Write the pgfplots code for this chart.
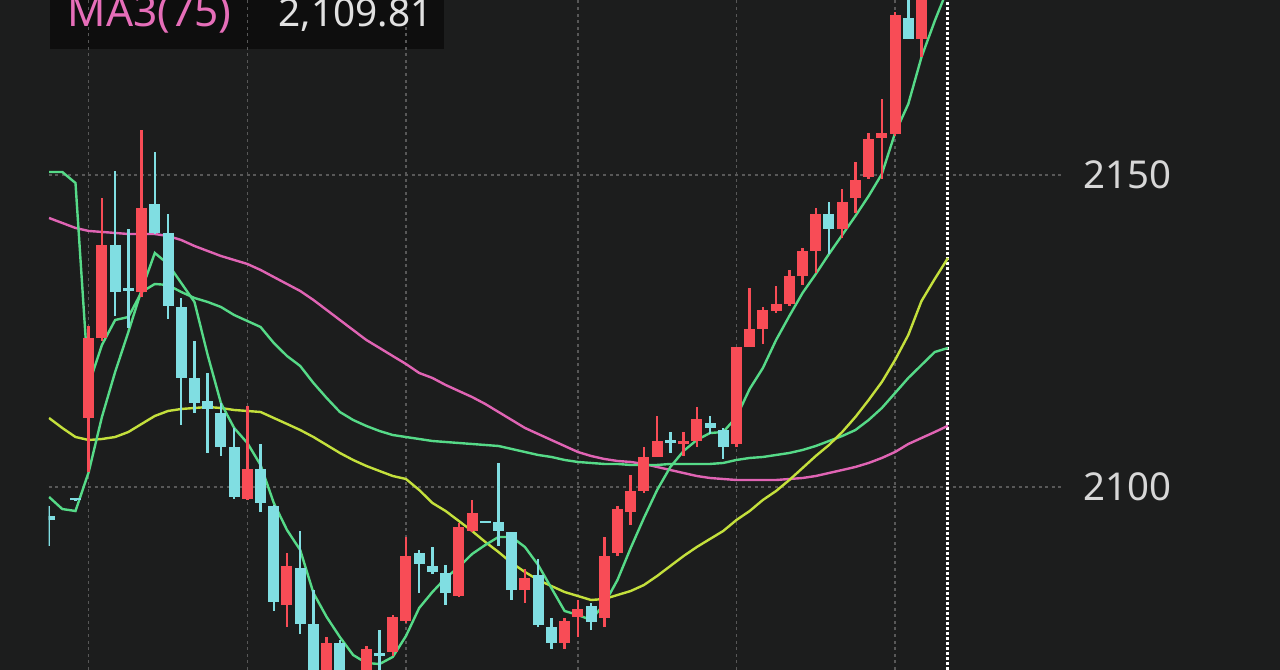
\documentclass[border=0pt]{standalone}
\usepackage{pgfplots}
\pgfplotsset{compat=1.18}
\usepackage{pgfplotstable}
\usepackage{fontspec}
\setmainfont{Noto Sans}
\definecolor{bgC}{RGB}{28,29,29}
\definecolor{boxC}{RGB}{14,14,14}
\definecolor{upC}{RGB}{248,76,86}
\definecolor{downC}{RGB}{128,222,226}
\definecolor{greenC}{RGB}{86,218,136}
\definecolor{yellowC}{RGB}{196,224,60}
\definecolor{pinkC}{RGB}{224,100,180}
\definecolor{pinkT}{RGB}{230,110,185}
\definecolor{gridC}{RGB}{88,88,88}
\definecolor{tickC}{RGB}{215,215,215}
\definecolor{valC}{RGB}{225,225,225}

\pgfplotstableread{
i o c h l
3 2111.06 2123.88 2125.80 2102.40
4 2123.88 2138.78 2146.31 2123.40
7 2131.25 2144.71 2157.21 2130.45
15 2098.08 2102.88 2112.98 2097.92
18 2081.09 2087.34 2089.42 2077.56
21 2068.27 2075.00 2075.96 2066.67
24 2067.47 2074.04 2074.52 2065.87
26 2073.56 2079.17 2079.49 2072.92
27 2078.53 2088.94 2091.99 2078.21
31 2082.53 2093.59 2094.23 2082.37
32 2092.95 2095.83 2097.92 2092.79
36 2083.49 2085.42 2086.86 2081.41
39 2075.00 2078.53 2079.01 2074.04
40 2079.17 2080.45 2081.89 2075.96
42 2079.01 2088.94 2091.99 2077.56
43 2089.42 2096.47 2096.96 2088.94
44 2095.99 2099.36 2101.92 2093.91
45 2099.36 2104.81 2106.41 2099.04
46 2104.81 2107.37 2111.38 2104.81
48 2106.89 2107.37 2108.81 2104.97
49 2107.37 2110.90 2112.82 2106.41
52 2106.89 2122.44 2122.44 2106.41
53 2122.44 2125.32 2131.89 2122.44
54 2125.32 2128.37 2128.85 2122.92
55 2128.21 2129.33 2132.21 2127.88
56 2129.33 2133.81 2134.78 2129.01
57 2133.81 2137.82 2138.30 2132.37
58 2137.82 2143.75 2144.71 2134.29
60 2141.35 2145.67 2147.76 2139.90
61 2146.31 2149.20 2152.08 2143.91
62 2149.68 2155.77 2156.73 2149.36
63 2155.93 2156.73 2162.18 2149.36
64 2156.57 2175.64 2176.12 2156.25
66 2171.79 2182.00 2184.00 2168.91
67 2182.00 2186.00 2188.00 2180.00
68 2186.00 2189.00 2191.00 2184.00
}\upT

\pgfplotstableread{
i o c h l
0 2095.35 2094.71 2096.96 2090.54
2 2098.16 2097.84 2098.24 2097.76
5 2138.78 2131.25 2150.64 2127.40
6 2131.89 2131.41 2141.35 2125.48
8 2145.35 2140.71 2153.69 2140.54
9 2140.71 2129.01 2143.75 2126.92
10 2128.85 2117.47 2130.29 2109.94
11 2117.47 2113.46 2123.40 2111.86
12 2113.78 2112.50 2118.27 2105.45
13 2111.86 2106.41 2113.46 2104.97
14 2106.41 2098.40 2109.46 2098.08
16 2102.88 2097.44 2106.89 2095.99
17 2096.96 2081.57 2097.12 2080.13
19 2087.02 2078.04 2092.95 2076.44
20 2078.04 2068.27 2083.49 2066.67
22 2075.00 2068.27 2075.48 2066.67
23 2069.07 2067.47 2070.08 2065.00
25 2073.40 2072.92 2077.08 2068.27
28 2089.42 2087.66 2089.90 2083.01
29 2087.34 2086.38 2090.38 2086.06
30 2086.22 2083.01 2087.50 2081.09
33 2094.55 2094.23 2094.55 2094.23
34 2094.39 2092.95 2103.85 2090.54
35 2092.79 2083.49 2092.79 2081.89
37 2085.90 2077.88 2088.46 2077.56
38 2077.56 2075.00 2079.01 2074.04
41 2080.93 2078.37 2081.41 2077.08
47 2107.53 2107.05 2108.81 2105.45
50 2110.26 2109.46 2111.38 2108.49
51 2109.13 2106.41 2109.46 2104.49
59 2143.75 2141.35 2145.67 2137.34
65 2175.16 2171.79 2180.00 2171.79
}\downT

\pgfplotstableread{
i S M Y K
0 2098.40 2150.48 2111.06 2143.11
1 2096.47 2150.48 2109.46 2142.31
2 2096.15 2148.72 2108.01 2141.51
3 2102.40 2116.35 2107.53 2141.03
4 2111.22 2122.76 2107.69 2140.87
5 2118.43 2126.76 2108.01 2140.71
6 2124.84 2127.24 2108.81 2140.54
7 2131.57 2131.25 2110.10 2140.54
8 2137.50 2132.53 2111.38 2140.54
9 2135.74 2132.37 2112.18 2140.22
10 2132.69 2131.25 2112.50 2139.58
11 2129.65 2130.29 2112.66 2138.62
12 2121.15 2129.65 2112.82 2137.82
13 2113.46 2128.85 2112.66 2137.02
14 2109.46 2127.56 2112.34 2136.38
15 2107.05 2126.60 2112.18 2135.74
16 2103.53 2125.64 2112.02 2134.78
17 2097.44 2123.08 2111.06 2133.65
18 2093.11 2120.99 2110.10 2132.53
19 2089.90 2119.39 2109.13 2131.41
20 2083.01 2116.67 2108.01 2129.97
21 2079.17 2114.26 2106.73 2128.37
22 2075.96 2112.02 2105.45 2126.76
23 2073.08 2110.74 2104.33 2125.16
24 2071.79 2109.78 2103.37 2123.56
25 2071.63 2108.97 2102.56 2122.28
26 2072.76 2108.33 2101.76 2120.99
27 2076.12 2108.01 2101.28 2119.71
28 2080.61 2107.69 2099.52 2118.27
29 2083.17 2107.37 2097.44 2117.47
30 2085.42 2107.21 2096.15 2116.35
31 2087.18 2107.05 2094.55 2115.38
32 2089.26 2106.89 2092.95 2114.42
33 2090.71 2106.73 2091.19 2113.30
34 2091.99 2106.57 2089.58 2112.02
35 2091.99 2106.09 2087.82 2110.74
36 2090.38 2105.61 2086.38 2109.46
37 2087.50 2105.13 2085.10 2108.49
38 2083.81 2104.81 2084.13 2107.53
39 2080.13 2104.33 2083.17 2106.57
40 2079.49 2104.01 2082.53 2105.61
41 2078.69 2103.85 2081.89 2104.97
42 2081.25 2103.69 2082.05 2104.49
43 2085.10 2103.69 2082.69 2104.17
44 2090.22 2103.53 2083.33 2104.01
45 2095.03 2103.53 2084.29 2103.69
46 2099.52 2103.53 2085.74 2103.21
47 2103.21 2103.69 2087.34 2102.72
48 2105.77 2103.69 2088.94 2102.24
49 2107.53 2103.69 2090.38 2101.76
50 2108.65 2103.69 2091.67 2101.44
51 2108.81 2103.85 2092.95 2101.28
52 2111.22 2104.33 2094.71 2101.12
53 2115.71 2104.65 2096.15 2101.12
54 2119.07 2104.81 2097.92 2101.12
55 2123.56 2105.13 2099.36 2101.12
56 2127.40 2105.45 2101.12 2101.28
57 2131.09 2105.93 2103.04 2101.44
58 2134.13 2106.57 2104.97 2101.76
59 2137.34 2107.37 2106.73 2102.24
60 2140.38 2108.17 2108.81 2102.72
61 2143.43 2109.13 2111.22 2103.21
62 2146.63 2110.74 2113.94 2103.85
63 2150.16 2112.66 2116.83 2104.65
64 2156.73 2115.06 2120.35 2105.61
65 2161.38 2117.47 2124.36 2106.89
66 2168.91 2119.55 2129.81 2107.85
67 2174.68 2121.63 2133.33 2108.81
68 2179.97 2122.28 2136.70 2109.81
}\maT

\begin{document}
\begin{tikzpicture}
\useasboundingbox (0,0) rectangle (320pt,167.5pt);
\fill[bgC] (0,0) rectangle (320pt,167.5pt);
\fill[boxC] (12.5pt,155.25pt) rectangle (111pt,168pt);
\begin{axis}[
  at={(12.13pt,0pt)}, anchor=south west,
  scale only axis, width=253.62pt, height=167.5pt,
  xmin=-0.04, xmax=76.705, ymin=2070.673, ymax=2178.045,
  axis line style={draw=none},
  xtick={3,15,27,40,52,64}, xticklabels={},
  extra x ticks={68}, extra x tick labels={},
  extra x tick style={grid=major, major grid style={draw=white, line width=0.75pt, dash pattern=on 0.75pt off 0.5pt}},
  ytick={2100,2150}, yticklabel pos=right,
  major tick length=0pt,
  xmajorgrids, ymajorgrids,
  major grid style={draw=gridC, line width=0.375pt, dash pattern=on 0.75pt off 0.9pt},
  /pgf/number format/assume math mode=true,
  /pgf/number format/1000 sep={},
  yticklabel style={anchor=west, inner sep=0pt, xshift=5pt, text=tickC, font=\fontsize{9.6}{11}\selectfont},
]
\addplot[no marks, draw=pinkC, line width=0.6pt] table[x=i,y=K]{\maT};
\addplot[no marks, draw=greenC, line width=0.6pt] table[x=i,y=M]{\maT};
\addplot[no marks, draw=yellowC, line width=0.6pt] table[x=i,y=Y]{\maT};
\addplot[no marks, draw=greenC, line width=0.6pt] table[x=i,y=S]{\maT};
% red wicks and bodies
\addplot[draw=none, mark=none, error bars/.cd, y dir=plus, y explicit, error mark=none,
  error bar style={draw=upC, line width=0.625pt, line cap=butt, solid}]
  table[x=i, y=l, y error expr=\thisrow{h}-\thisrow{l}]{\upT};
\addplot[draw=none, mark=none, error bars/.cd, y dir=plus, y explicit, error mark=none,
  error bar style={draw=upC, line width=2.75pt, line cap=butt, solid}]
  table[x=i, y=o, y error expr=\thisrow{c}-\thisrow{o}]{\upT};
% cyan wicks and bodies
\addplot[draw=none, mark=none, error bars/.cd, y dir=plus, y explicit, error mark=none,
  error bar style={draw=downC, line width=0.625pt, line cap=butt, solid}]
  table[x=i, y=l, y error expr=\thisrow{h}-\thisrow{l}]{\downT};
\addplot[draw=none, mark=none, error bars/.cd, y dir=plus, y explicit, error mark=none,
  error bar style={draw=downC, line width=2.75pt, line cap=butt, solid}]
  table[x=i, y=c, y error expr=\thisrow{o}-\thisrow{c}]{\downT};
\end{axis}
\node[anchor=base west, inner sep=0pt, text=pinkT, font=\fontsize{10.6}{12}\selectfont] at (16.75pt,160.75pt) {MA3(75)};
\node[anchor=base west, inner sep=0pt, text=valC, font=\fontsize{9.7}{12}\selectfont] at (69.5pt,160.75pt) {2,109.81};
\end{tikzpicture}
\end{document}
